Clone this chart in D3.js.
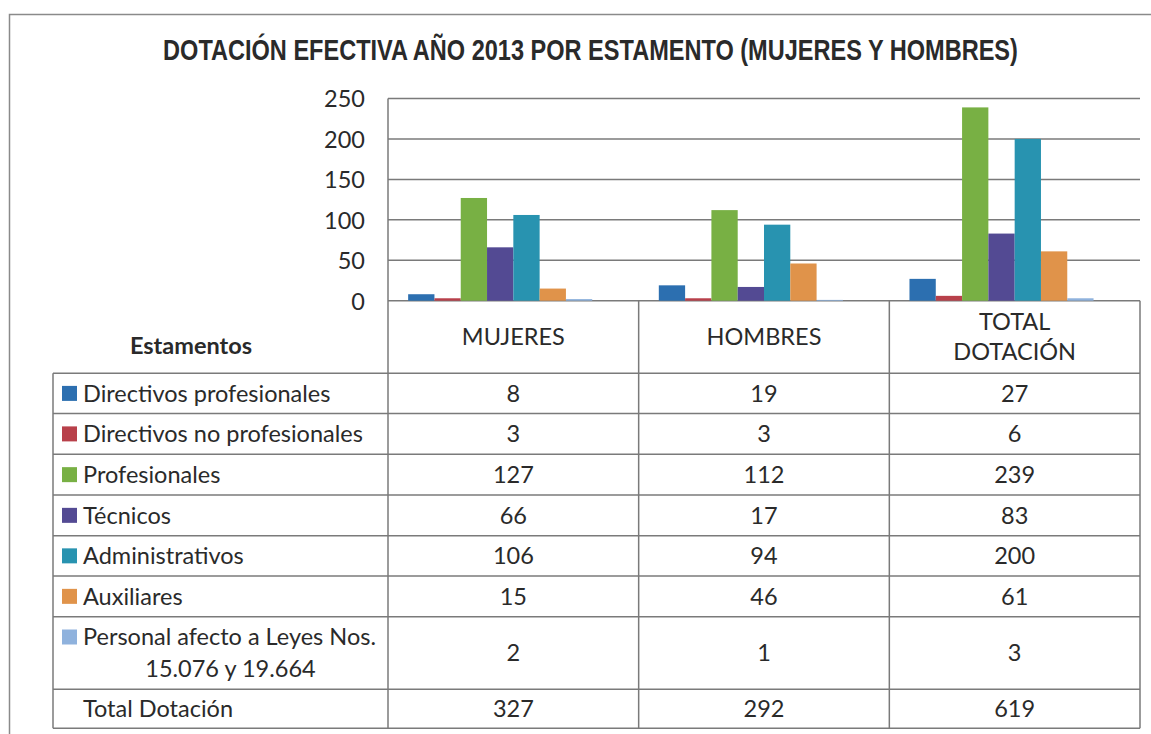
<!DOCTYPE html>
<html>
<head>
<meta charset="utf-8">
<script src="https://cdn.jsdelivr.net/npm/d3@7"></script>
<style>
  html, body { margin: 0; padding: 0; background: #fff; }
  svg { display: block; }
</style>
</head>
<body>
<svg id="chart" width="1151" height="734"></svg>
<script>
// ---------------- DATA ----------------
const title = "DOTACIÓN EFECTIVA AÑO 2013 POR ESTAMENTO (MUJERES Y HOMBRES)";
const categories = ["MUJERES", "HOMBRES", "TOTAL DOTACIÓN"];
const categoryLines = [["MUJERES"], ["HOMBRES"], ["TOTAL", "DOTACIÓN"]];
const seriesNames = [
  "Directivos profesionales",
  "Directivos no profesionales",
  "Profesionales",
  "Técnicos",
  "Administrativos",
  "Auxiliares",
  "Personal afecto a Leyes Nos. 15.076 y 19.664"
];
const seriesLines = [
  ["Directivos profesionales"],
  ["Directivos no profesionales"],
  ["Profesionales"],
  ["Técnicos"],
  ["Administrativos"],
  ["Auxiliares"],
  ["Personal afecto a Leyes Nos.", "15.076 y 19.664"]
];
const mujeres = [8, 3, 127, 66, 106, 15, 2];
const hombres = [19, 3, 112, 17, 94, 46, 1];
const totalDotacion = [27, 6, 239, 83, 200, 61, 3];
const totalsLabel = "Total Dotación";
const totals = [327, 292, 619];
const yTicks = [0, 50, 100, 150, 200, 250];
const tableHeader = "Estamentos";
const colors = ["#2C6FB0", "#B8404A", "#78B044", "#534A93", "#2893B0", "#E0934A", "#8FB2DD"];

// ---------------- LAYOUT ----------------
const svg = d3.select("#chart");
const font = "Lato, 'Open Sans', sans-serif";
const textColor = "#2a2a2a";
const lineColor = "#7a7a7a";

const plotLeft = 388, plotRight = 1140, plotTop = 98.5, plotBottom = 300.7;
const tableLeft = 53;
const headerBottom = 373.3;
const rowHeights = [40.2, 40.8, 40.7, 40.7, 40.3, 40.7, 72.6, 39];

const values = seriesNames.map((s, i) => [mujeres[i], hombres[i], totalDotacion[i]]);

const x0 = d3.scaleBand().domain(categories).range([plotLeft, plotRight]).padding(0);
// 8 slots per cluster (the 8th is left empty as in the original)
const x1 = d3.scaleBand().domain(d3.range(8)).range([0, x0.bandwidth()]).paddingInner(0).paddingOuter(0.766);
const y = d3.scaleLinear().domain([0, 250]).range([plotBottom, plotTop]);

// outer frame (top and left visible)
svg.append("rect")
  .attr("x", 9.5).attr("y", 14.5).attr("width", 1200).attr("height", 800)
  .attr("fill", "none").attr("stroke", "#8a8a8a").attr("stroke-width", 1.5);

// title (condensed by horizontal scaling)
const titleG = svg.append("g");
const titleT = titleG.append("text")
  .attr("x", 0).attr("y", 0)
  .attr("text-anchor", "middle")
  .attr("font-family", "'Liberation Sans Narrow', 'Liberation Sans', Arial, sans-serif")
  .attr("font-weight", "bold")
  .attr("font-size", 29)
  .attr("fill", "#2a2a2a")
  .text(title);
const titleNatural = titleT.node().getComputedTextLength();
const titleScale = Math.min(1, 855 / titleNatural);
titleG.attr("transform", `translate(590.5,60) scale(${titleScale},1)`);

// gridlines
svg.append("g").selectAll("line").data(yTicks).join("line")
  .attr("x1", plotLeft).attr("x2", plotRight)
  .attr("y1", d => y(d)).attr("y2", d => y(d))
  .attr("stroke", lineColor).attr("stroke-width", 1.5);

// y axis labels
const yAxis = d3.axisLeft(y).tickValues(yTicks).tickSize(0).tickPadding(23);
const gy = svg.append("g").attr("transform", `translate(${plotLeft},0)`).call(yAxis);
gy.select(".domain").remove();
gy.selectAll("text")
  .attr("font-family", font).attr("font-size", 23.5).attr("fill", textColor)
  .attr("dy", "0.36em");

// bars
const clusters = svg.append("g").selectAll("g").data(categories).join("g")
  .attr("transform", d => `translate(${x0(d)},0)`);
clusters.selectAll("rect")
  .data((c, ci) => seriesNames.map((s, si) => ({ si, v: values[si][ci] })))
  .join("rect")
  .attr("x", d => x1(d.si))
  .attr("width", x1.bandwidth())
  .attr("y", d => y(d.v))
  .attr("height", d => y(0) - y(d.v))
  .attr("fill", d => colors[d.si]);

// ---------------- TABLE ----------------
const rowTops = [headerBottom];
rowHeights.forEach((h, i) => rowTops.push(rowTops[i] + h));
const tableBottom = rowTops[rowTops.length - 1];

const grid = svg.append("g").attr("stroke", lineColor).attr("stroke-width", 1.5);
rowTops.forEach(yy => {
  grid.append("line").attr("x1", tableLeft).attr("x2", plotRight).attr("y1", yy).attr("y2", yy);
});
grid.append("line").attr("x1", tableLeft).attr("x2", tableLeft).attr("y1", headerBottom).attr("y2", tableBottom);
grid.append("line").attr("x1", plotLeft).attr("x2", plotLeft).attr("y1", plotTop).attr("y2", tableBottom);
categories.forEach(c => {
  const xx = x0(c) + x0.bandwidth();
  grid.append("line").attr("x1", xx).attr("x2", xx).attr("y1", plotBottom).attr("y2", tableBottom);
});

const fs = 23.5;
// header: Estamentos
svg.append("text")
  .attr("x", 191).attr("y", (plotBottom + headerBottom) / 2 + 9)
  .attr("dy", "0.36em")
  .attr("text-anchor", "middle")
  .attr("font-family", font).attr("font-weight", "bold").attr("font-size", fs)
  .attr("fill", textColor).text(tableHeader);

// header: categories
categories.forEach((c, ci) => {
  const lines = categoryLines[ci];
  const cx = x0(c) + x0.bandwidth() / 2;
  const cy = (plotBottom + headerBottom) / 2;
  const lh = 30;
  lines.forEach((ln, li) => {
    svg.append("text")
      .attr("x", cx)
      .attr("y", cy + (li - (lines.length - 1) / 2) * lh)
      .attr("dy", "0.36em")
      .attr("text-anchor", "middle")
      .attr("font-family", font).attr("font-size", fs).attr("fill", textColor)
      .text(ln);
  });
});

// rows
const labelX = 83;
const allRows = seriesNames.map((s, i) => ({ lines: seriesLines[i], vals: values[i], color: colors[i] }))
  .concat([{ lines: [totalsLabel], vals: totals, color: null }]);

allRows.forEach((r, ri) => {
  const top = rowTops[ri], h = rowHeights[ri];
  const cy = top + h / 2;
  const lh = 32;
  const n = r.lines.length;
  const firstY = cy - (n - 1) / 2 * lh;
  if (r.color) {
    svg.append("rect")
      .attr("x", 62).attr("y", firstY - 7.5).attr("width", 15).attr("height", 15)
      .attr("fill", r.color);
  }
  let firstWidth = 0;
  r.lines.forEach((ln, li) => {
    const t = svg.append("text")
      .attr("y", firstY + li * lh)
      .attr("dy", "0.36em")
      .attr("font-family", font).attr("font-size", fs).attr("fill", textColor)
      .text(ln);
    if (li === 0) {
      t.attr("x", labelX);
      firstWidth = t.node().getComputedTextLength();
    } else {
      t.attr("x", labelX + firstWidth / 2).attr("text-anchor", "middle").attr("dx", 1);
    }
  });
  r.vals.forEach((v, ci) => {
    svg.append("text")
      .attr("x", x0(categories[ci]) + x0.bandwidth() / 2)
      .attr("y", cy)
      .attr("dy", "0.36em")
      .attr("text-anchor", "middle")
      .attr("font-family", font).attr("font-size", fs).attr("fill", textColor)
      .text(v);
  });
});
</script>
</body>
</html>
